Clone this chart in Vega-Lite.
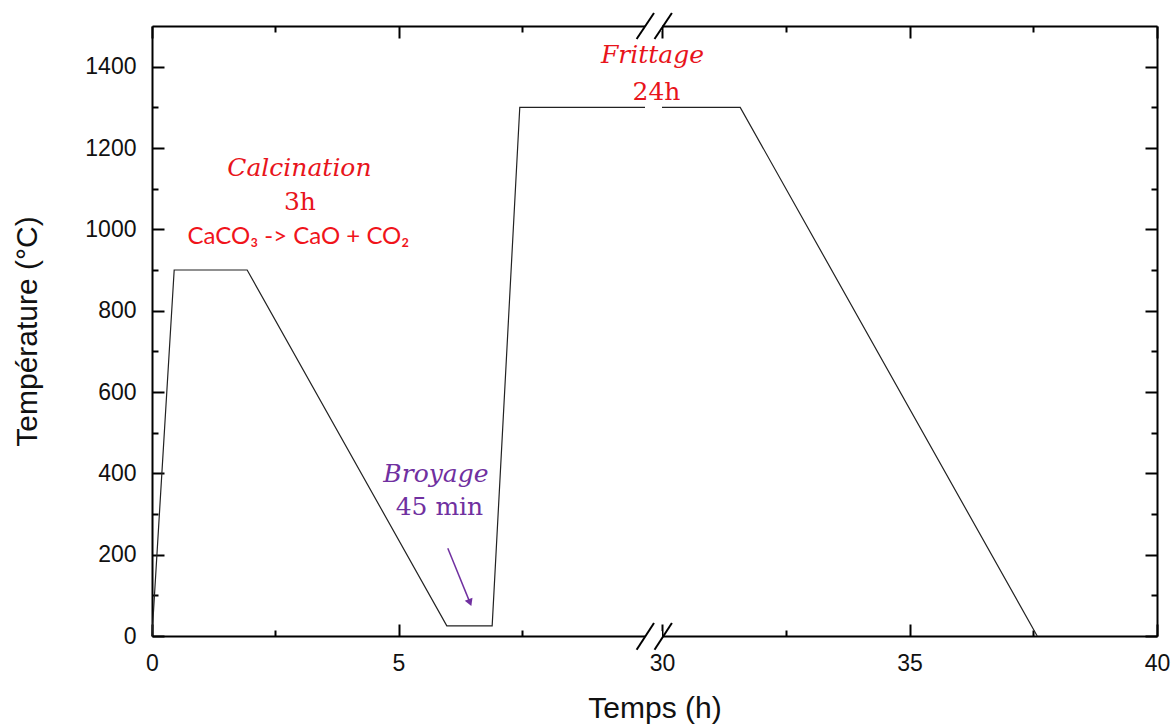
{
  "$schema": "https://vega.github.io/schema/vega-lite/v6.json",
  "width": 1005,
  "height": 610,
  "autosize": {"type": "none"},
  "padding": {"left": 152, "top": 26, "right": 18, "bottom": 88},
  "background": "white",
  "config": {
    "view": {"stroke": null},
    "font": "Liberation Sans",
    "axis": {
      "domainColor": "#000", "domainWidth": 2, "tickColor": "#000", "tickWidth": 2,
      "grid": false, "labelFont": "Liberation Sans", "labelFontSize": 23, "labelColor": "#111",
      "titleFont": "Liberation Sans", "titleFontSize": 30, "titleFontWeight": "normal", "titleColor": "#111"
    }
  },
  "datasets": {
    "profile": [
      {"t": 0, "T": 0, "seg": "a"},
      {"t": 0.45, "T": 900, "seg": "a"},
      {"t": 1.93, "T": 900, "seg": "a"},
      {"t": 5.98, "T": 25, "seg": "a"},
      {"t": 6.9, "T": 25, "seg": "a"},
      {"t": 7.46, "T": 1300, "seg": "a"},
      {"t": 10, "T": 1300, "seg": "a"},
      {"t": 30, "T": 1300, "seg": "b"},
      {"t": 31.58, "T": 1300, "seg": "b"},
      {"t": 37.58, "T": 0, "seg": "b"}
    ],
    "covers": [
      {"t": 10, "t2": 30, "T": -12, "T2": 12},
      {"t": 10, "t2": 30, "T": 1488, "T2": 1512}
    ],
    "slashes": [
      {"t": 9.83, "T": -34, "t2": 20.6, "T2": 32},
      {"t": 21.2, "T": -34, "t2": 30.2, "T2": 32},
      {"t": 9.83, "T": 1468, "t2": 20.6, "T2": 1532},
      {"t": 21.2, "T": 1468, "t2": 30.2, "T2": 1532}
    ]
  },
  "layer": [
    {
      "data": {"name": "profile"},
      "mark": {"type": "line", "color": "#222", "strokeWidth": 1.2},
      "encoding": {
        "x": {
          "field": "t", "type": "quantitative",
          "scale": {"type": "linear", "domain": [0, 10, 30, 40], "range": [0, 493, 510, 1005], "nice": false, "zero": false},
          "axis": {
            "orient": "bottom", "title": "Temps (h)", "values": [0, 2.5, 5, 7.5, 30, 32.5, 35, 37.5, 40],
            "labelExpr": "datum.value % 5 === 0 ? datum.label : ''",
            "tickSize": {"condition": {"test": "datum.value % 5 === 0", "value": -12}, "value": -6},
            "labelPadding": 28, "titlePadding": 18, "labelFlush": false
          }
        },
        "y": {
          "field": "T", "type": "quantitative",
          "scale": {"domain": [0, 1500], "nice": false, "zero": true},
          "axis": {
            "orient": "left", "title": "Température (°C)", "format": "d",
            "values": [0, 100, 200, 300, 400, 500, 600, 700, 800, 900, 1000, 1100, 1200, 1300, 1400],
            "labelExpr": "datum.value % 200 === 0 ? datum.label : ''",
            "tickSize": {"condition": {"test": "datum.value % 200 === 0", "value": -12}, "value": -6},
            "labelPadding": 28, "titlePadding": 42, "labelFlush": false
          }
        },
        "detail": {"field": "seg"}
      }
    },
    {
      "data": {"name": "covers"},
      "mark": {"type": "rect", "color": "white"},
      "encoding": {
        "x": {
          "field": "t", "type": "quantitative",
          "axis": {
            "orient": "top", "title": null, "labels": false, "values": [0, 2.5, 5, 7.5, 30, 32.5, 35, 37.5, 40],
            "tickSize": {"condition": {"test": "datum.value % 5 === 0", "value": -12}, "value": -6}
          }
        },
        "x2": {"field": "t2"},
        "y": {
          "field": "T", "type": "quantitative",
          "axis": {
            "orient": "right", "title": null, "labels": false,
            "values": [0, 100, 200, 300, 400, 500, 600, 700, 800, 900, 1000, 1100, 1200, 1300, 1400],
            "tickSize": {"condition": {"test": "datum.value % 200 === 0", "value": -12}, "value": -6}
          }
        },
        "y2": {"field": "T2"}
      }
    },
    {
      "data": {"name": "slashes"},
      "mark": {"type": "rule", "color": "#000", "strokeWidth": 2},
      "encoding": {
        "x": {"field": "t", "type": "quantitative", "axis": null},
        "x2": {"field": "t2"},
        "y": {"field": "T", "type": "quantitative", "axis": null},
        "y2": {"field": "T2"}
      }
    },
    {
      "data": {"values": [
        {"t": 2.99, "T": 1131, "label": "Calcination"},
        {"t": 18.8, "T": 1409, "label": "Frittage"}
      ]},
      "mark": {"type": "text", "font": "DejaVu Serif", "fontStyle": "italic", "fontSize": 25, "color": "#E8141B", "baseline": "alphabetic", "align": "center"},
      "encoding": {
        "x": {"field": "t", "type": "quantitative", "axis": null},
        "y": {"field": "T", "type": "quantitative", "axis": null},
        "text": {"field": "label"}
      }
    },
    {
      "data": {"values": [
        {"t": 3.0, "T": 1047, "label": "3h"},
        {"t": 23.5, "T": 1318, "label": "24h"}
      ]},
      "mark": {"type": "text", "font": "DejaVu Serif", "fontSize": 25, "color": "#E8141B", "baseline": "alphabetic", "align": "center"},
      "encoding": {
        "x": {"field": "t", "type": "quantitative", "axis": null},
        "y": {"field": "T", "type": "quantitative", "axis": null},
        "text": {"field": "label"}
      }
    },
    {
      "data": {"values": [
        {"t": 2.97, "T": 964, "label": "CaCO₃ -> CaO + CO₂"}
      ]},
      "mark": {"type": "text", "font": "Lato", "fontSize": 24, "color": "#F0141B", "baseline": "alphabetic", "align": "center"},
      "encoding": {
        "x": {"field": "t", "type": "quantitative", "axis": null},
        "y": {"field": "T", "type": "quantitative", "axis": null},
        "text": {"field": "label"}
      }
    },
    {
      "data": {"values": [
        {"t": 5.76, "T": 379, "label": "Broyage"}
      ]},
      "mark": {"type": "text", "font": "DejaVu Serif", "fontStyle": "italic", "fontSize": 25, "color": "#7030A0", "baseline": "alphabetic", "align": "center"},
      "encoding": {
        "x": {"field": "t", "type": "quantitative", "axis": null},
        "y": {"field": "T", "type": "quantitative", "axis": null},
        "text": {"field": "label"}
      }
    },
    {
      "data": {"values": [
        {"t": 5.83, "T": 297, "label": "45 min"}
      ]},
      "mark": {"type": "text", "font": "DejaVu Serif", "fontSize": 25, "color": "#7030A0", "baseline": "alphabetic", "align": "center"},
      "encoding": {
        "x": {"field": "t", "type": "quantitative", "axis": null},
        "y": {"field": "T", "type": "quantitative", "axis": null},
        "text": {"field": "label"}
      }
    },
    {
      "data": {"values": [{"t": 6.0, "T": 216, "t2": 6.45, "T2": 82}]},
      "mark": {"type": "rule", "color": "#7030A0", "strokeWidth": 1.5},
      "encoding": {
        "x": {"field": "t", "type": "quantitative", "axis": null},
        "x2": {"field": "t2"},
        "y": {"field": "T", "type": "quantitative", "axis": null},
        "y2": {"field": "T2"}
      }
    },
    {
      "data": {"values": [{"t": 6.45, "T": 82}]},
      "mark": {"type": "point", "shape": "triangle-up", "filled": true, "color": "#7030A0", "size": 70, "angle": 158, "opacity": 1},
      "encoding": {
        "x": {"field": "t", "type": "quantitative", "axis": null},
        "y": {"field": "T", "type": "quantitative", "axis": null}
      }
    }
  ],
  "resolve": {"axis": {"x": "independent", "y": "independent"}}
}
